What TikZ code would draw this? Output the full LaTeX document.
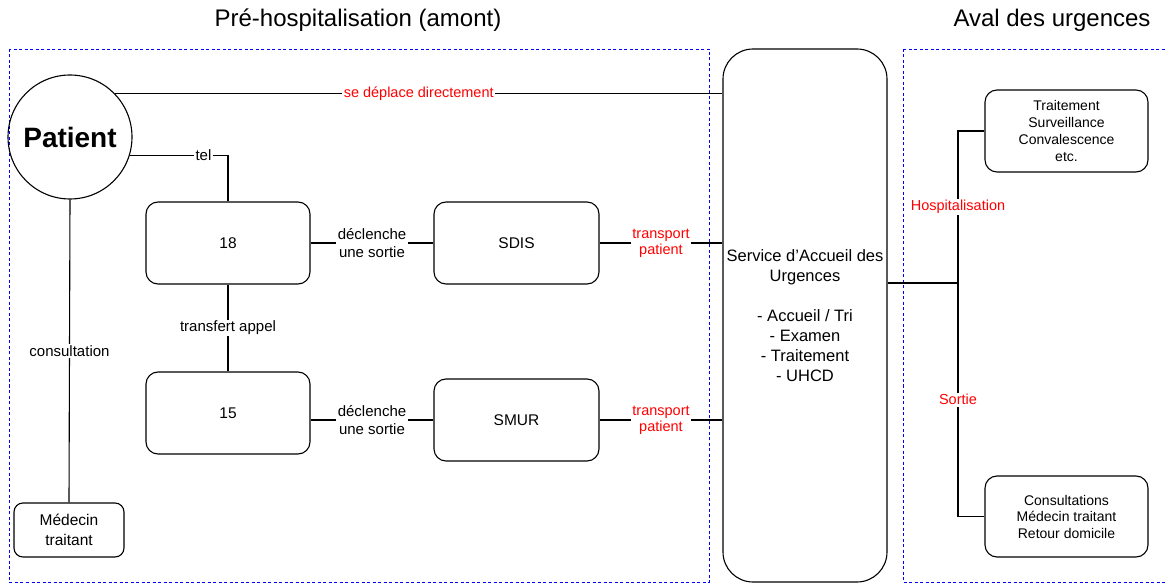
\documentclass[tikz,border=0pt]{standalone}
\usepackage{fontspec}
\setmainfont{Liberation Sans}
\usetikzlibrary{positioning}

\begin{document}
\begin{tikzpicture}[x=1pt, y=-1pt,
	box/.style={draw, line width=1.1pt, rounded corners=12pt, align=center, font=\fontsize{15.5}{20}\selectfont},
	lbl/.style={fill=white, inner sep=1.5pt, align=center, font=\fontsize{15}{18}\selectfont},
	redlbl/.style={lbl, text=red, font=\fontsize{14.5}{16}\selectfont},
	zone/.style={draw=blue, line width=0.8pt, dash pattern=on 3pt off 2.5pt},
	zonetitle/.style={font=\fontsize{24}{28}\selectfont},
	link/.style={line width=1.1pt}]
	\clip (0,0) rectangle (1165,585);
	
	% Zones
	\draw[zone] (9,49) rectangle (709,582);
	\draw[zone] (903,49) rectangle (1180,582);
	\node[zonetitle] (amont) at (358,20) {Pré-hospitalisation (amont)};
	\node[zonetitle] (aval) at (1052,20) {Aval des urgences};
	
	% Nodes
	\node[draw, circle, line width=1.1pt, minimum size=124pt, font=\fontsize{28}{32}\selectfont\bfseries] (patient) at (70,137) {Patient};
	\node[box, minimum width=164pt, minimum height=82pt] (n18) at (228,243) {18};
	\node[box, minimum width=164pt, minimum height=82pt] (n15) at (228,413) {15};
	\node[box, minimum width=165pt, minimum height=82pt] (sdis) at (516.5,243) {SDIS};
	\node[box, minimum width=165pt, minimum height=82pt] (smur) at (516.5,420) {SMUR};
	\node[box, rounded corners=9pt, minimum width=110pt, minimum height=54pt] (medecin) at (69,530) {Médecin\\traitant};
	\node[box, rounded corners=30pt, minimum width=164pt, minimum height=533pt, font=\fontsize{16.5}{20}\selectfont] (sau) at (805,315.5)
		{Service d'Accueil des\\Urgences\\[20pt]- Accueil / Tri\\- Examen\\- Traitement\\- UHCD};
	\node[box, minimum width=163pt, minimum height=82pt, font=\fontsize{14}{17}\selectfont] (soins) at (1066.5,131)
		{Traitement\\Surveillance\\Convalescence\\etc.};
	\node[box, minimum width=163pt, minimum height=81pt, font=\fontsize{14}{16.5}\selectfont] (retour) at (1066.5,516.5)
		{Consultations\\Médecin traitant\\Retour domicile};
	\coordinate (fork) at (958,283);
	
	% Links
	\draw[link] (patient.44) -- node[redlbl] {se déplace directement} (patient.44 -| sau.west);
	\draw[link] (patient.-17) -- node[lbl, pos=0.75] {tel} (patient.-17 -| n18.north) -- (n18.north);
	\draw[link] (patient.south) -- node[lbl] {consultation} (medecin.north);
	\draw[link] (n18.south) -- node[lbl] {transfert appel} (n15.north);
	\draw[link] (n18.east) -- node[lbl] {déclenche\\une sortie} (sdis.west);
	\draw[link] (n15.east |- smur.west) -- node[lbl] {déclenche\\une sortie} (smur.west);
	\draw[link] (sdis.east) -- node[redlbl] {transport\\patient} (sdis.east -| sau.west);
	\draw[link] (smur.east) -- node[redlbl] {transport\\patient} (smur.east -| sau.west);
	\draw[link] (sau.east |- fork) -- (fork);
	\draw[link] (soins.west) -- (soins.west -| fork) -- node[redlbl] {Hospitalisation} (fork)
		-- node[redlbl] {Sortie} (fork |- retour.west) -- (retour.west);
\end{tikzpicture}
\end{document}
